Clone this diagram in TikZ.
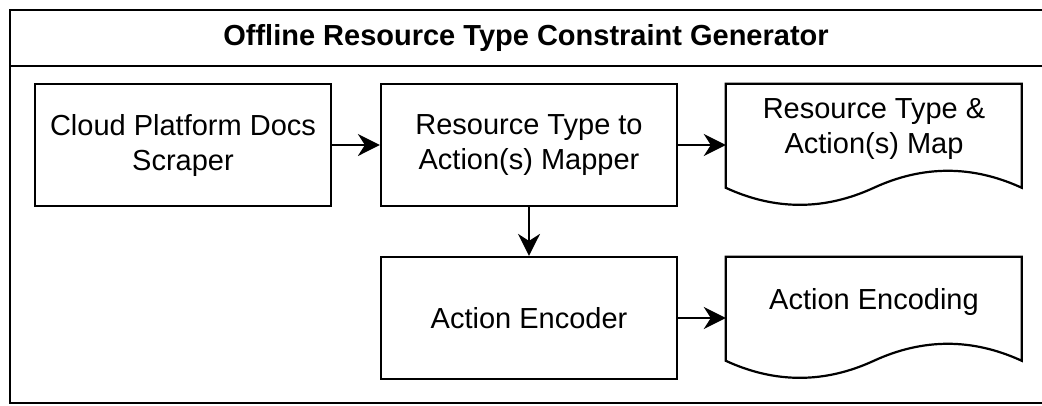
\documentclass[tikz,border=0pt]{standalone}
\usepackage{fontspec}
\setmainfont{Liberation Sans}
\usetikzlibrary{arrows.meta,positioning}
\tikzset{
  >={Stealth[length=22pt,width=22pt,inset=7pt]},
  block/.style={rectangle, draw=black, line width=2.2pt, minimum width=296pt,
                minimum height=122pt, align=center, inner sep=0pt},
  doctext/.style={rectangle, minimum width=296pt, minimum height=90pt,
                  align=center, inner sep=0pt},
  docline/.style={draw=black, line width=2.2pt, line join=miter},
  flow/.style={->, line width=2.2pt},
  titletext/.style={font=\fontsize{29}{35}\selectfont\bfseries}
}

\begin{document}
\begin{tikzpicture}[x=1pt, y=-1pt, font=\fontsize{29}{35}\selectfont]
      \useasboundingbox (0,0) rectangle (1042,405);

      % Draw outer frame and title bar.
      \draw[line width=2.2pt] (10,10) rectangle (1044,403);
      \draw[line width=2.2pt] (10,66) -- (1044,66);
      \node[titletext] (title) at (526,38) {Offline Resource Type Constraint Generator};

      % Process blocks.
      \node[block] (scraper) at (183,145) {Cloud Platform Docs\\Scraper};
      \node[block] (mapper) at (529,145) {Resource Type to\\Action(s) Mapper};
      \node[block] (encoder) at (529,318) {Action Encoder};

      % Output documents (text part only, outline drawn below).
      \node[doctext] (map) at (874,129) {Resource Type \&\\Action(s) Map};
      \node[doctext] (encoding) at (874,302) {Action Encoding};

      % Document outlines with wavy bottom edge.
      \draw[docline, shift={(map.north west)}] (0,0) -- (296,0) -- (296,104)
      .. controls (246.7,81.3) and (197.3,81.3) .. (148,104)
      .. controls (98.7,126.7) and (49.3,126.7) .. (0,104) -- cycle;
      \draw[docline, shift={(encoding.north west)}] (0,0) -- (296,0) -- (296,104)
      .. controls (246.7,81.3) and (197.3,81.3) .. (148,104)
      .. controls (98.7,126.7) and (49.3,126.7) .. (0,104) -- cycle;

      % Connectors.
      \draw[flow] (scraper) -- (mapper);
      \draw[flow] (mapper) -- (encoder);
      \draw[flow] (mapper.east) -- (mapper.east -| map.west);
      \draw[flow] (encoder.east) -- (encoder.east -| encoding.west);

    \end{tikzpicture}
\end{document}
